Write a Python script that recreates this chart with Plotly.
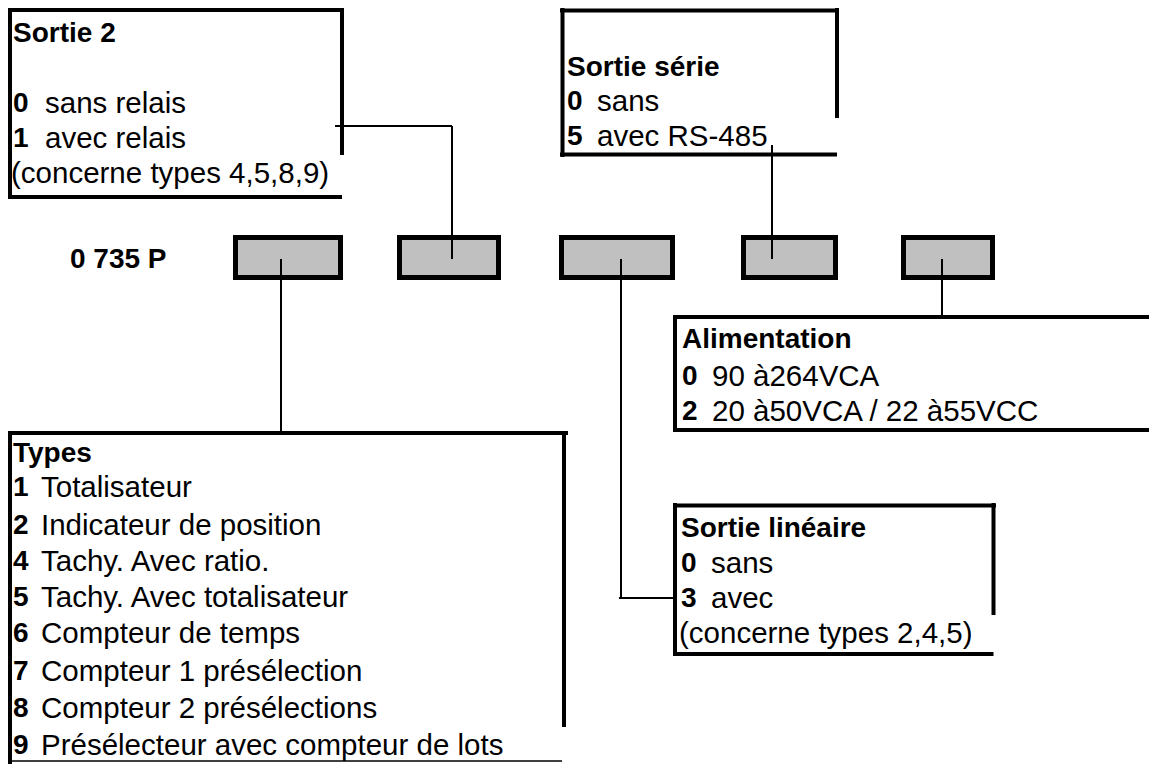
import plotly.graph_objects as go

# ---- data (texts of the ordering code diagram) ----
code_prefix = "0 735 P"

sortie2_title = "Sortie 2"
sortie2_codes = ["0", "1"]
sortie2_labels = ["sans relais", "avec relais"]
sortie2_note = "(concerne types 4,5,8,9)"

serie_title = "Sortie série"
serie_codes = ["0", "5"]
serie_labels = ["sans", "avec RS-485"]

alim_title = "Alimentation"
alim_codes = ["0", "2"]
alim_labels = ["90 à264VCA", "20 à50VCA / 22 à55VCC"]

types_title = "Types"
types_codes = ["1", "2", "4", "5", "6", "7", "8", "9"]
types_labels = ["Totalisateur", "Indicateur de position", "Tachy. Avec ratio.",
                "Tachy. Avec totalisateur", "Compteur de temps",
                "Compteur 1 présélection", "Compteur 2 présélections",
                "Présélecteur avec compteur de lots"]

lin_title = "Sortie linéaire"
lin_codes = ["0", "3"]
lin_labels = ["sans", "avec"]
lin_note = "(concerne types 2,4,5)"

# ---- layout geometry (pixel-like coordinates) ----
FONT = "Liberation Sans, Arial, sans-serif"
FS_B = 28
FS_R = 29.5
W, H = 1149, 764

fig = go.Figure()
shapes = []
annos = []

def line(x0, y0, x1, y1, w=4):
    shapes.append(dict(type="line", xref="x", yref="y", x0=x0, y0=y0, x1=x1, y1=y1,
                       line=dict(color="black", width=w)))

def text(x, y, s, bold=False):
    annos.append(dict(x=x, y=y, xref="x", yref="y", text=(f"<b>{s}</b>" if bold else s),
                      showarrow=False, xanchor="left", yanchor="middle",
                      font=dict(family=FONT, size=(FS_B if bold else FS_R), color="black")))

def rows(x, ys, codes, labels, off=30):
    for y, c, l in zip(ys, codes, labels):
        text(x, y, c, bold=True)
        text(x + off, y, l)

# Sortie 2 box
line(8, 10, 344, 10)
line(10, 8, 10, 199)
line(342, 8, 342, 155)
line(8, 197, 342, 197)
text(11, 32, sortie2_title, bold=True)
rows(11, [102, 137], sortie2_codes, sortie2_labels, off=32)
text(9, 172, sortie2_note)

# Sortie série box
line(560, 10.5, 839, 10.5)
line(562.5, 8, 562.5, 157)
line(837, 8, 837, 118)
line(560, 154.5, 837, 154.5)
text(565, 66, serie_title, bold=True)
rows(565, [100, 135], serie_codes, serie_labels)

# code prefix
text(68, 258, code_prefix, bold=True)

# gray code boxes
box_x = [(233, 343), (397, 501), (559, 675), (741, 838), (901, 995)]
for x0, x1 in box_x:
    shapes.append(dict(type="rect", xref="x", yref="y", x0=x0 + 2.5, x1=x1 - 2.5,
                       y0=237.5, y1=277.5, fillcolor="#C0C0C0",
                       line=dict(color="black", width=5), layer="below"))

# connectors (thin)
line(335, 126, 452, 126, 2)
line(452, 126, 452, 259, 2)
line(772, 145, 772, 259, 2)
line(281, 259, 281, 432, 2)
line(621, 259, 621, 598, 2)
line(619, 598, 675, 598, 2)
line(942, 259, 942, 316, 2)

# Alimentation box
line(673, 317, 1149, 317)
line(675, 315, 675, 432)
line(673, 430, 1149, 430)
text(680, 338, alim_title, bold=True)
rows(680, [375, 410], alim_codes, alim_labels)

# Types box
line(8, 433, 568, 433)
line(10, 431, 10, 764)
line(564, 431, 564, 727)
line(8, 761, 562, 761, 1.5)
text(11, 452, types_title, bold=True)
rows(11, [486, 524, 560, 596, 632, 670, 707, 744], types_codes, types_labels, off=28)

# Sortie linéaire box
line(673, 505.5, 996, 505.5)
line(675, 503, 675, 656)
line(993.5, 503, 993.5, 615)
line(673, 654, 993.5, 654)
text(679, 527, lin_title, bold=True)
rows(679, [562, 597], lin_codes, lin_labels)
text(677, 632, lin_note)

fig.update_layout(
    width=W, height=H, margin=dict(l=0, r=0, t=0, b=0),
    paper_bgcolor="white", plot_bgcolor="white",
    xaxis=dict(range=[0, W], visible=False, fixedrange=True),
    yaxis=dict(range=[H, 0], visible=False, fixedrange=True),
    shapes=shapes, annotations=annos, showlegend=False,
)
fig.write_html("out.html", config={"displayModeBar": False},
               post_script="document.body.style.margin='0';document.body.style.overflow='hidden';")
